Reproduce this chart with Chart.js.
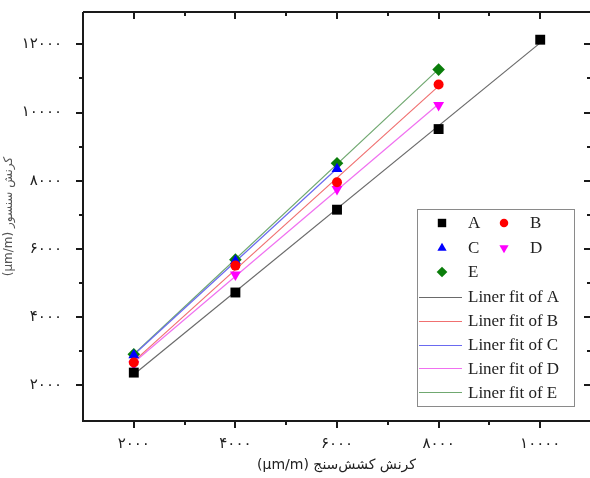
<!DOCTYPE html>
<html>
<head>
<meta charset="utf-8">
<script src="https://cdn.jsdelivr.net/npm/chart.js@4/dist/chart.umd.min.js"></script>
<style>
html,body{margin:0;padding:0;background:#fff}
canvas{display:block}
</style>
</head>
<body>
<canvas id="mychart" width="590" height="478"></canvas>
<script>
// values
var xA = [2000, 4000, 6000, 8000, 10000]
var yA = [2370, 4720, 7150, 9515, 12137]
var xB = [2000, 4000, 6000, 8000]
var yB = [2664, 5509, 7956, 10822]
var xC = [2000, 4000, 6000]
var yC = [2880, 5650, 8345]
var xD = [2000, 4000, 6000, 8000]
var yD = [2620, 5246, 7751, 10216]
var xE = [2000, 4000, 6000, 8000]
var yE = [2906, 5684, 8511, 11260]
var names = ['A', 'B', 'C', 'D', 'E']

var xTicks = [2000, 4000, 6000, 8000, 10000]
var xTickLabels = ['۲۰۰۰', '۴۰۰۰', '۶۰۰۰', '۸۰۰۰', '۱۰۰۰۰']
var yTicks = [2000, 4000, 6000, 8000, 10000, 12000]
var yTickLabels = ['۲۰۰۰', '۴۰۰۰', '۶۰۰۰', '۸۰۰۰', '۱۰۰۰۰', '۱۲۰۰۰']
var xTitle = '(µm/m) کرنش کشش‌سنج'
var yTitle = '(µm/m) کرنش سنسور'

var pointColors = ['#000000', '#ff0000', '#0000ff', '#ff00ff', '#0a7d0a']
var lineColors = ['#6a6a6a', '#f07070', '#6a6af0', '#f070f0', '#70a870']
var styles = [
  {pointStyle: 'rect', radius: 7, rotation: 0},
  {pointStyle: 'circle', radius: 5, rotation: 0},
  {pointStyle: 'triangle', radius: 6.3, rotation: 0},
  {pointStyle: 'triangle', radius: 6.3, rotation: 180},
  {pointStyle: 'rectRot', radius: 6.3, rotation: 0}
]

function toPts(xs, ys) {
  return xs.map(function(x, i) { return {x: x, y: ys[i]} })
}

// least squares line over the data's x range
function linFit(xs, ys) {
  var n = xs.length, sx = 0, sy = 0, sxx = 0, sxy = 0
  for (var i = 0; i < n; i++) {
    sx += xs[i]; sy += ys[i]; sxx += xs[i] * xs[i]; sxy += xs[i] * ys[i]
  }
  var b = (n * sxy - sx * sy) / (n * sxx - sx * sx)
  var a = (sy - b * sx) / n
  return [{x: xs[0], y: a + b * xs[0]}, {x: xs[n - 1], y: a + b * xs[n - 1]}]
}

var allX = [xA, xB, xC, xD, xE]
var allY = [yA, yB, yC, yD, yE]

var datasets = []
for (var k = 0; k < 5; k++) {
  datasets.push({
    label: names[k],
    data: toPts(allX[k], allY[k]),
    showLine: false,
    pointStyle: styles[k].pointStyle,
    pointRotation: styles[k].rotation,
    pointRadius: styles[k].radius,
    pointBackgroundColor: pointColors[k],
    pointBorderColor: pointColors[k],
    pointBorderWidth: 0,
    order: 0
  })
  datasets.push({
    label: 'Liner fit of ' + names[k],
    data: linFit(allX[k], allY[k]),
    showLine: true,
    borderColor: lineColors[k],
    borderWidth: 1.2,
    pointRadius: 0,
    order: 1
  })
}

var frameAndTicks = {
  id: 'frameAndTicks',
  afterDraw: function(chart) {
    var ctx = chart.ctx, a = chart.chartArea
    var xs = chart.scales.x, ys = chart.scales.y
    ctx.save()
    ctx.strokeStyle = '#1a1a1a'
    ctx.lineWidth = 2
    ctx.beginPath()
    ctx.moveTo(a.left, a.top); ctx.lineTo(a.right + 2, a.top)
    ctx.moveTo(a.left, a.top); ctx.lineTo(a.left, a.bottom)
    ctx.moveTo(a.left - 1, a.bottom); ctx.lineTo(a.right + 2, a.bottom)
    ctx.stroke()
    ctx.beginPath()
    var rightX = a.right + 1
    xTicks.forEach(function(v, i) {
      var p = Math.round(xs.getPixelForValue(v))
      ctx.moveTo(p, a.bottom); ctx.lineTo(p, a.bottom + 7)
      ctx.moveTo(p, a.top); ctx.lineTo(p, a.top + 7)
      if (i < xTicks.length - 1) {
        var m = Math.round(xs.getPixelForValue((v + xTicks[i + 1]) / 2))
        ctx.moveTo(m, a.bottom); ctx.lineTo(m, a.bottom + 4)
        ctx.moveTo(m, a.top); ctx.lineTo(m, a.top + 4)
      }
    })
    yTicks.forEach(function(v, i) {
      var p = Math.round(ys.getPixelForValue(v))
      ctx.moveTo(a.left, p); ctx.lineTo(a.left - 7, p)
      ctx.moveTo(rightX, p); ctx.lineTo(rightX - 7, p)
      if (i < yTicks.length - 1) {
        var m = Math.round(ys.getPixelForValue((v + yTicks[i + 1]) / 2))
        ctx.moveTo(a.left, m); ctx.lineTo(a.left - 4, m)
        ctx.moveTo(rightX, m); ctx.lineTo(rightX - 4, m)
      }
    })
    ctx.stroke()
    ctx.restore()
  }
}

var boxLegend = {
  id: 'boxLegend',
  afterDraw: function(chart) {
    var ctx = chart.ctx
    var drawPoint = Chart.helpers.drawPoint
    ctx.save()
    ctx.fillStyle = '#fff'
    ctx.fillRect(417, 209, 157, 197)
    ctx.strokeStyle = '#8a8a8a'
    ctx.lineWidth = 1
    ctx.strokeRect(417.5, 209.5, 157, 197)
    ctx.font = '17px "Liberation Serif"'
    ctx.textBaseline = 'middle'
    ctx.textAlign = 'left'
    var slots = [[442, 223], [504, 223], [442, 248], [504, 248], [442, 272]]
    for (var k = 0; k < 5; k++) {
      ctx.fillStyle = pointColors[k]
      ctx.strokeStyle = pointColors[k]
      drawPoint(ctx, {pointStyle: styles[k].pointStyle, rotation: styles[k].rotation,
        radius: styles[k].radius * 0.85, borderWidth: 0}, slots[k][0], slots[k][1])
      ctx.fillStyle = '#222'
      ctx.fillText(names[k], slots[k][0] + 26, slots[k][1] + 1)
    }
    for (var j = 0; j < 5; j++) {
      var y = 297 + j * 23.8
      ctx.strokeStyle = lineColors[j]
      ctx.lineWidth = 1.2
      ctx.beginPath()
      ctx.moveTo(419, Math.round(y) + 0.5); ctx.lineTo(462, Math.round(y) + 0.5)
      ctx.stroke()
      ctx.fillStyle = '#222'
      ctx.fillText('Liner fit of ' + names[j], 468, y + 1)
    }
    ctx.restore()
  }
}

var mychart = document.getElementById('mychart').getContext('2d')
var chart = new Chart(mychart, {
  type: 'scatter',
  data: {datasets: datasets},
  options: {
    responsive: false,
    animation: false,
    layout: {autoPadding: false, padding: {top: 12, left: 0, right: 0, bottom: 0}},
    plugins: {legend: {display: false}, tooltip: {enabled: false}},
    scales: {
      x: {
        type: 'linear', min: 1000, max: 10980,
        grid: {display: false, drawTicks: true, tickLength: 8},
        border: {display: false},
        afterBuildTicks: function(s) { s.ticks = xTicks.map(function(v) { return {value: v} }) },
        ticks: {
          callback: function(v) { return xTickLabels[xTicks.indexOf(v)] },
          maxRotation: 0, autoSkip: false, padding: 6, color: '#222',
          font: {family: 'DejaVu Sans', size: 15}
        },
        title: {display: true, text: xTitle, color: '#222', padding: {top: 0, bottom: 4},
          font: {family: 'DejaVu Sans', size: 14}},
        afterFit: function(s) {
          s.height = 57
          s.paddingLeft = 0; s.paddingRight = 0
        }
      },
      y: {
        type: 'linear', min: 950, max: 12950,
        grid: {display: false, drawTicks: true, tickLength: 8},
        border: {display: false},
        afterBuildTicks: function(s) { s.ticks = yTicks.map(function(v) { return {value: v} }) },
        ticks: {
          callback: function(v) { return yTickLabels[yTicks.indexOf(v)] },
          autoSkip: false, padding: 13, color: '#222',
          font: {family: 'DejaVu Sans', size: 15}
        },
        title: {display: true, text: yTitle, color: '#555', padding: {top: 2, bottom: 0},
          font: {family: 'DejaVu Sans', size: 12}},
        afterFit: function(s) {
          s.width = 83
          s.paddingTop = 0; s.paddingBottom = 0
        }
      }
    }
  },
  plugins: [frameAndTicks, boxLegend]
})
</script>
</body>
</html>
